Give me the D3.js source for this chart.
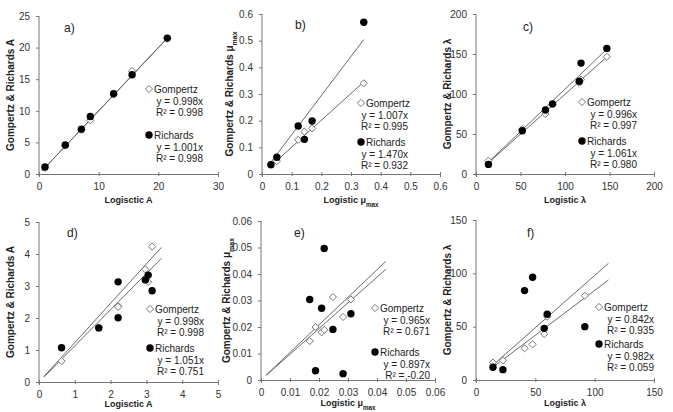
<!DOCTYPE html>
<html>
<head>
<meta charset="utf-8">
<script src="https://cdn.jsdelivr.net/npm/d3@7"></script>
<style>
  body { margin: 0; background: #fff; }
  svg { display: block; }
</style>
</head>
<body>
<svg id="chart" width="673" height="412"></svg>
<script>
// values: x = logistic estimate, y = Gompertz / Richards estimate
const aLogistic = [1.0, 4.4, 7.1, 8.6, 12.5, 15.6, 21.5];
const aGompertz = [1.0, 4.5, 7.0, 8.5, 12.6, 16.3, 21.4];
const aRichards = [1.1, 4.6, 7.1, 9.1, 12.7, 15.7, 21.5];

const bLogistic = [0.03, 0.05, 0.122, 0.143, 0.169, 0.343];
const bGompertz = [0.035, 0.048, 0.128, 0.159, 0.171, 0.340];
const bRichards = [0.035, 0.063, 0.180, 0.130, 0.199, 0.569];

const cLogistic = [14, 52, 78, 86, 116, 118, 147];
const cGompertz = [16.7, 56, 75, 87, 114, 118, 146.6];
const cRichards = [12, 54, 80, 87.7, 116, 138.6, 157];

const dLogistic = [0.63, 1.67, 2.21, 2.21, 2.97, 3.05, 3.16];
const dGompertz = [0.65, 1.70, 2.37, 2.35, 3.52, 3.13, 4.23];
const dRichards = [1.07, 1.69, 3.13, 2.01, 3.19, 3.34, 2.85];

const eLogistic = [0.0168, 0.0188, 0.0209, 0.0218, 0.0248, 0.0283, 0.031];
const eGompertz = [0.0147, 0.020, 0.018, 0.0189, 0.0313, 0.0238, 0.0304];
const eRichards = [0.0304, 0.0035, 0.0271, 0.0496, 0.0191, 0.0024, 0.025];

const fLogistic = [14.3, 22.7, 40.9, 47.7, 57.5, 60, 91.7];
const fGompertz = [16.3, 18.4, 29.7, 33.4, 43.1, 59.4, 79];
const fRichards = [11.9, 9.7, 83.8, 96.3, 48.4, 61.6, 50];

// tick labels
const aTicks = [0, 10, 20, 30],            aYTicks = [0, 5, 10, 15, 20, 25];
const bTicks = [0, 0.1, 0.2, 0.3, 0.4, 0.5, 0.6];
const cTicks = [0, 50, 100, 150, 200];
const dTicks = [0, 1, 2, 3, 4, 5];
const eTicks = [0, 0.01, 0.02, 0.03, 0.04, 0.05, 0.06];
const fTicks = [0, 50, 100, 150];

// fitted lines through the origin as drawn: [x from, x to, slope]
const aTrend = { Gompertz: [0.5, 21.5, 0.998], Richards: [0.5, 21.5, 1.001] };
const bTrend = { Gompertz: [0.026, 0.343, 1.007], Richards: [0.03, 0.343, 1.470] };
const cTrend = { Gompertz: [13, 147, 0.996], Richards: [13, 147, 1.061] };
const dTrend = { Gompertz: [0.14, 3.42, 1.13], Richards: [0.14, 3.42, 1.23] };
const eTrend = { Gompertz: [0.0018, 0.043, 1.04], Richards: [0.0018, 0.043, 0.97] };
const fTrend = { Gompertz: [13.5, 111.6, 0.84], Richards: [13.5, 111.6, 0.98] };

// legend text
const aEq = { Gompertz: ["y = 0.998x", "R² = 0.998"], Richards: ["y = 1.001x", "R² = 0.998"] };
const bEq = { Gompertz: ["y = 1.007x", "R² = 0.995"], Richards: ["y = 1.470x", "R² = 0.932"] };
const cEq = { Gompertz: ["y = 0.996x", "R² = 0.997"], Richards: ["y = 1.061x", "R² = 0.980"] };
const dEq = { Gompertz: ["y = 0.998x", "R² = 0.998"], Richards: ["y = 1.051x", "R² = 0.751"] };
const eEq = { Gompertz: ["y = 0.965x", "R² = 0.671"], Richards: ["y = 0.897x", "R² = -0.20"] };
const fEq = { Gompertz: ["y = 0.842x", "R² = 0.935"], Richards: ["y = 0.982x", "R² = 0.059"] };

// axis titles: [text, subscript]
const titleA  = { x: [["Logisctic A"]], y: [["Gompertz & Richards  A"]] };
const titleMu = { x: [["Logistic μ"], ["max", true]], y: [["Gompertz & Richards  μ"], ["max", true]] };
const titleL  = { x: [["Logistic λ"]], y: [["Gompertz & Richards λ"]] };

const panels = [
    { id: "a)", x: aLogistic, g: aGompertz, r: aRichards, xt: aTicks, yt: aYTicks, trend: aTrend, eq: aEq, title: titleA },
    { id: "b)", x: bLogistic, g: bGompertz, r: bRichards, xt: bTicks, yt: bTicks, trend: bTrend, eq: bEq, title: titleMu },
    { id: "c)", x: cLogistic, g: cGompertz, r: cRichards, xt: cTicks, yt: cTicks, trend: cTrend, eq: cEq, title: titleL },
    { id: "d)", x: dLogistic, g: dGompertz, r: dRichards, xt: dTicks, yt: dTicks, trend: dTrend, eq: dEq, title: titleA },
    { id: "e)", x: eLogistic, g: eGompertz, r: eRichards, xt: eTicks, yt: eTicks, trend: eTrend, eq: eEq, title: titleMu },
    { id: "f)", x: fLogistic, g: fGompertz, r: fRichards, xt: fTicks, yt: fTicks, trend: fTrend, eq: fEq, title: titleL }
];

// plot boxes and label placement (pixels)
const boxes = [
    { x: 39,  y: 16,  w: 179, h: 158, yt: 10,  xtY: 203, lab: [25, 12], leg: [110, 89 - 16, 135 - 16, 164] },
    { x: 262, y: 14,  w: 178, h: 160, yt: 229, xtY: 203, lab: [33, 11], leg: [99, 103 - 14, 142 - 14, 146] },
    { x: 476, y: 14,  w: 178, h: 160, yt: 447, xtY: 203, lab: [47, 13], leg: [106, 102 - 14, 141 - 14, 161] },
    { x: 39,  y: 222, w: 179, h: 160, yt: 10,  xtY: 407, lab: [28, 11], leg: [111, 309 - 222, 348 - 222, 165] },
    { x: 261, y: 221, w: 174, h: 159, yt: 226, xtY: 406, lab: [33, 12], leg: [114, 308 - 221, 352 - 221, 169] },
    { x: 476, y: 220, w: 178, h: 160, yt: 447, xtY: 406, lab: [51, 13], leg: [123, 307 - 220, 344 - 220, 178] }
];

const FONT = "'Liberation Sans', Arial, sans-serif";
const INK = "#222";
const svg = d3.select("#chart").style("font-family", FONT);

function addText(sel, parts, size) {
    parts.forEach(([t, sub]) => {
        const ts = sel.append("tspan").text(t);
        if (sub) ts.attr("font-size", size * 0.7).attr("baseline-shift", "sub");
    });
}

function drawGompertz(g, px, py) {
    const r = 3.6;
    g.append("path")
        .attr("d", `M${px},${py - r}L${px + r},${py}L${px},${py + r}L${px - r},${py}Z`)
        .attr("fill", "#fff")
        .attr("stroke", "#777")
        .attr("stroke-width", 1);
}

function drawRichards(g, px, py) {
    g.append("circle")
        .attr("cx", px).attr("cy", py).attr("r", 3.7)
        .attr("fill", "#000");
}

panels.forEach((p, i) => {
    const b = boxes[i];
    const g = svg.append("g").attr("transform", `translate(${b.x},${b.y})`);
    const x = d3.scaleLinear().domain(d3.extent(p.xt)).range([0, b.w]);
    const y = d3.scaleLinear().domain(d3.extent(p.yt)).range([b.h, 0]);
    const fmt = d => String(+d.toFixed(4));

    // axes
    const xa = g.append("g")
        .attr("transform", `translate(0,${b.h})`)
        .call(d3.axisBottom(x).tickValues(p.xt).tickFormat(fmt).tickSizeOuter(0).tickSize(3).tickPadding(6));
    xa.selectAll(".tick line").attr("y1", -2).attr("y2", 2);
    const ya = g.append("g")
        .call(d3.axisLeft(y).tickValues(p.yt).tickFormat(fmt).tickSizeOuter(0).tickSize(3).tickPadding(6));
    ya.selectAll(".tick line").attr("x1", -3).attr("x2", 0);
    [xa, ya].forEach(a => {
        a.select(".domain").attr("stroke", "#777");
        a.selectAll(".tick line").attr("stroke", "#777");
        a.selectAll("text").attr("font-size", 10).attr("fill", "#333").attr("font-family", FONT);
    });
    ya.select(".domain").attr("d", `M0,${b.h + 2}V0`);

    // trend lines
    ["Gompertz", "Richards"].forEach(s => {
        const [x0, x1, k] = p.trend[s];
        g.append("line")
            .attr("x1", x(x0)).attr("y1", y(x0 * k))
            .attr("x2", x(x1)).attr("y2", y(x1 * k))
            .attr("stroke", "#6a6a6a")
            .attr("stroke-width", 1);
    });

    // points
    p.x.forEach((v, j) => drawGompertz(g, x(v), y(p.g[j])));
    p.x.forEach((v, j) => drawRichards(g, x(v), y(p.r[j])));

    // panel label
    g.append("text")
        .attr("x", b.lab[0]).attr("y", b.lab[1] + 4)
        .attr("font-size", 12).attr("fill", INK)
        .text(p.id);

    // legend
    const [lx, gy, ry, ex] = b.leg;
    [["Gompertz", gy], ["Richards", ry]].forEach(([s, ly]) => {
        if (s === "Gompertz") drawGompertz(g, lx, ly);
        else drawRichards(g, lx, ly);
        g.append("text")
            .attr("x", lx + 5).attr("y", ly + 3.6)
            .attr("font-size", 10).attr("fill", INK)
            .text(s);
        p.eq[s].forEach((t, k) => {
            g.append("text")
                .attr("x", ex).attr("y", ly + 3.6 + 12.5 + k * 10.5)
                .attr("text-anchor", "end")
                .attr("font-size", 10).attr("fill", INK)
                .text(t);
        });
    });

    // axis titles
    const xt = svg.append("text")
        .attr("x", b.x + b.w / 2).attr("y", b.xtY)
        .attr("text-anchor", "middle")
        .attr("font-size", 9).attr("font-weight", "bold").attr("fill", INK);
    addText(xt, p.title.x, 9);
    const yt = svg.append("text")
        .attr("transform", `translate(${b.yt + 3.5},${b.y + b.h / 2}) rotate(-90)`)
        .attr("text-anchor", "middle")
        .attr("font-size", 10).attr("font-weight", "bold").attr("fill", INK);
    addText(yt, p.title.y, 10);
});
</script>
</body>
</html>
